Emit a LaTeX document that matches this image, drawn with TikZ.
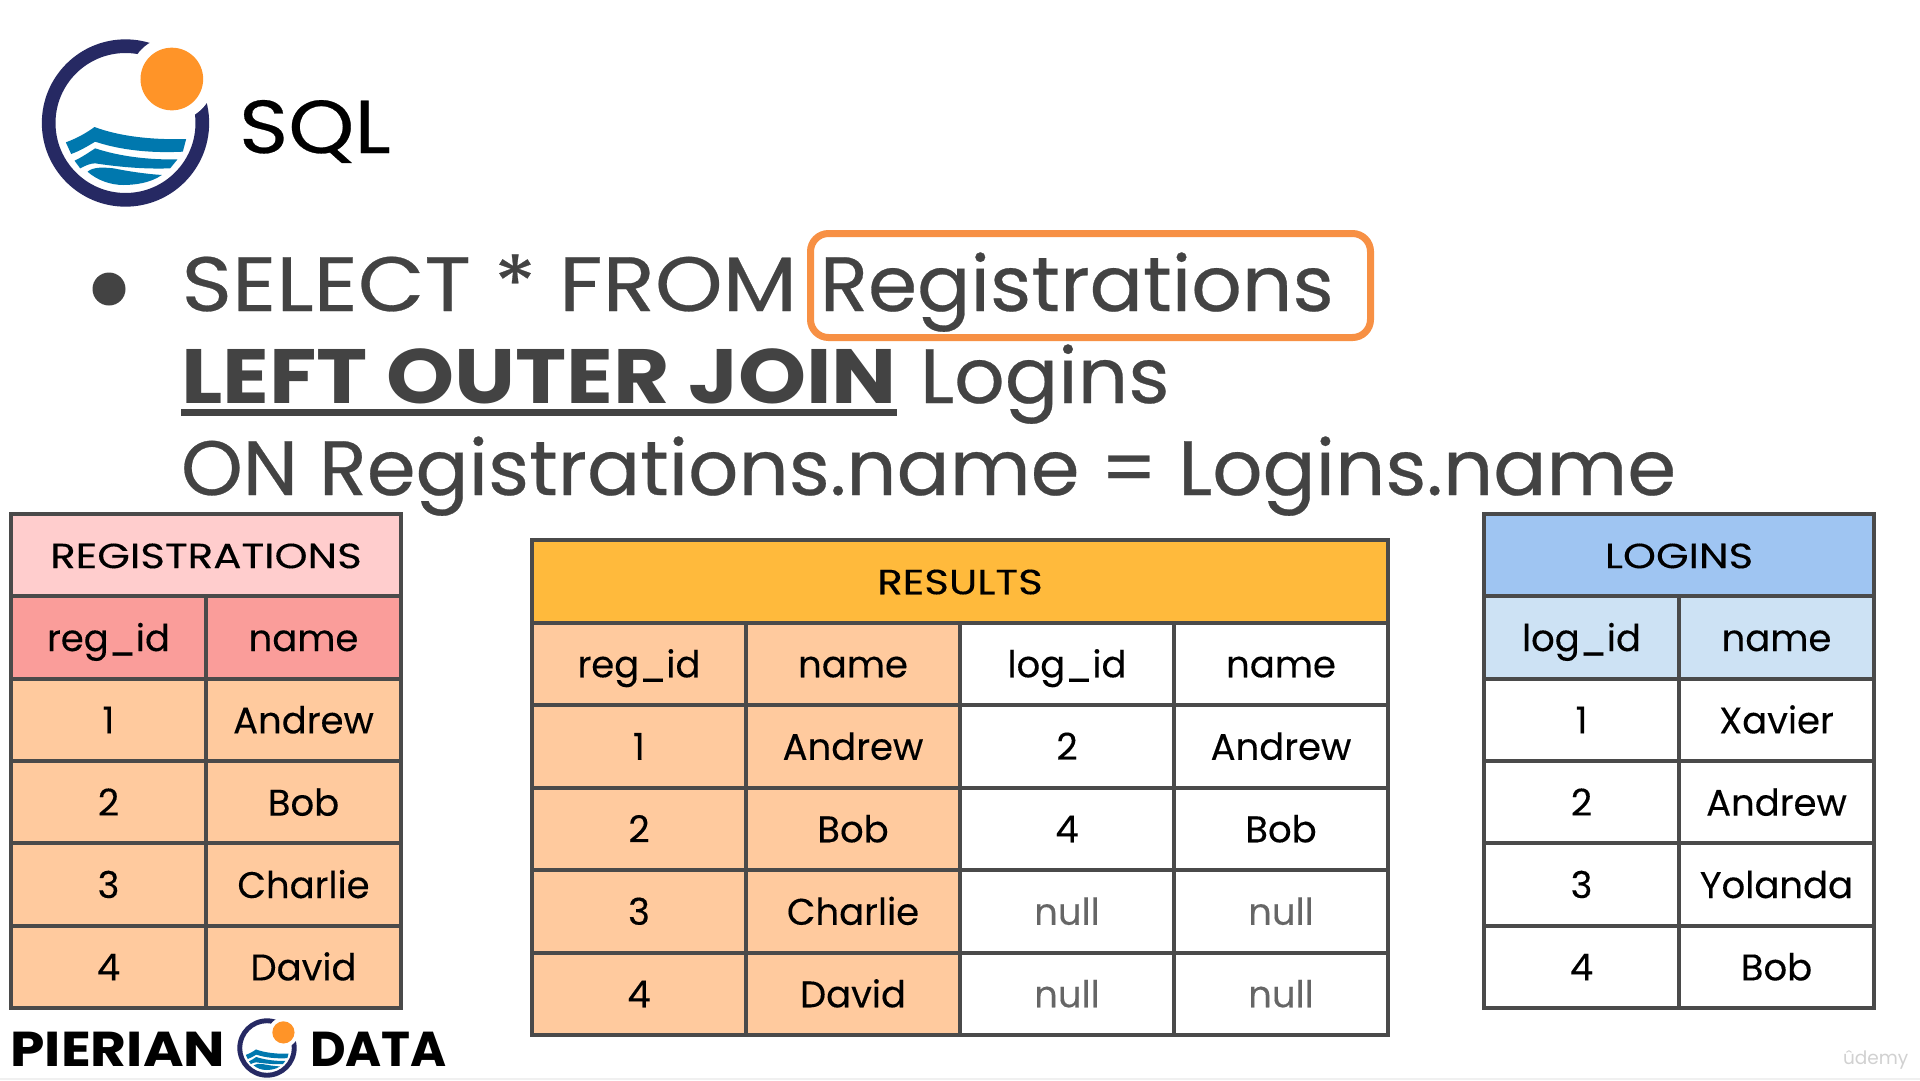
\documentclass[tikz,border=0pt]{standalone}
\usepackage{fontspec}
\usetikzlibrary{positioning}
\setmainfont{Poppins}[FakeBold=.25]
\newfontfamily\titlefont[FakeStretch=1.2, FakeBold=.25]{Poppins}
\newfontfamily\capsfont[FakeStretch=1.12, FakeBold=.35]{Poppins}
\newfontfamily\wordfont[FakeStretch=1.027, FakeBold=.35]{Poppins}
\newfontfamily\clausefont[FakeStretch=1.021, FakeBold=.35]{Poppins}
\newfontfamily\heavyfont[FakeStretch=1.125]{Poppins}
\newfontfamily\plainfont{Poppins}

\definecolor{gridgray}{HTML}{4A4A4A}
\definecolor{textgray}{HTML}{434343}
\definecolor{nullgray}{HTML}{666666}
\definecolor{regtitle}{HTML}{FFCDCD}
\definecolor{reghead}{HTML}{FA9D9A}
\definecolor{rowpeach}{HTML}{FFCA9E}
\definecolor{restitle}{HTML}{FFBA3C}
\definecolor{logtitle}{HTML}{9FC5F2}
\definecolor{loghead}{HTML}{CDE2F4}
\definecolor{ringblue}{HTML}{262963}
\definecolor{sunorange}{HTML}{FF9428}
\definecolor{seablue}{HTML}{0078AE}
\definecolor{boxorange}{HTML}{F79044}

\tikzset{
	cell/.style={draw=gridgray, line width=4pt, outer sep=0pt, inner sep=0pt, align=center,
		font=\fontsize{37}{40}\selectfont, text height=29pt, text depth=2pt},
	smallcell/.style={cell, minimum width=195pt, minimum height=82.33pt},
	smalltitle/.style={smallcell, minimum width=390pt, font=\titlefont\fontsize{35}{38}\selectfont, text height=28pt},
	bigcell/.style={cell, minimum width=214pt, minimum height=82.5pt},
	bigtitle/.style={bigcell, minimum width=856pt, font=\titlefont\fontsize{35}{38}\selectfont, text height=28pt},
	slide/.style={anchor=base west, inner sep=0pt, outer sep=0pt, text=textgray, font=\wordfont\fontsize{77}{80}\selectfont},
	logo/.pic={
		\begin{scope}[shift={(-376,-369)}]
			\fill[ringblue, even odd rule] (376,369) circle (251) (376,369) circle (210);
			\fill[white] (515,237) circle (127);
			\fill[sunorange] (515,237) circle (94);
			\fill[seablue] (197,427) .. controls (230,415) and (260,398) .. (283,381) .. controls (360,410) and (460,420) .. (558,417) -- (548,455) .. controls (450,460) and (360,450) .. (285,425) .. controls (260,440) and (240,452) .. (213,462) -- cycle;
			\fill[seablue] (223,482) .. controls (245,472) and (265,458) .. (285,445) .. controls (360,470) and (450,480) .. (532,478) -- (510,505) .. controls (430,508) and (350,500) .. (285,490) .. controls (270,490) and (255,497) .. (240,505) -- cycle;
			\fill[seablue] (262,515) .. controls (280,500) and (310,502) .. (340,505) .. controls (390,515) and (440,522) .. (485,525) .. controls (450,550) and (400,555) .. (370,555) .. controls (330,555) and (290,540) .. (262,515) -- cycle;
		\end{scope}
	},
}

\begin{document}
\begin{tikzpicture}[x=1pt, y=-1pt]
	\useasboundingbox (0,0) rectangle (1920,1080);
	\fill[white] (0,0) rectangle (1920,1080);
	\fill[black!6] (0,1078) rectangle (1920,1080);

	% Logos and heading
	\pic (logobig) [scale=.3333] at (125.5,123) {logo};
	\pic (logosmall) [scale=.1182] at (267,1048) {logo};
	\node[slide, text=black, font=\capsfont\fontsize{75}{78}\selectfont] (sql) at (239,153) {SQL};
	\node[slide, text=black, font=\heavyfont\fontsize{49}{52}\selectfont\bfseries] (pierian) at (10.5,1066) {PIERIAN};
	\node[slide, text=black, font=\plainfont\fontsize{49}{52}\selectfont\bfseries] (data) at (310,1066) {DATA};
	\node[slide, text=black!18, font=\plainfont\fontsize{18.5}{22}\selectfont] (udemy) at (1843,1064) {ûdemy};

	% Query text
	\fill[textgray] (109,289) circle (16.5);
	\node[slide, font=\capsfont\fontsize{77}{80}\selectfont] (select) at (181.5,311) {SELECT * FROM};
	\node[slide] (regword) at (820,311) {Registrations};
	\node[draw=boxorange, line width=7pt, rounded corners=18pt, minimum width=560pt, minimum height=104pt, outer sep=0pt] (regbox) at (1090.5,285.5) {};
	\node[slide, font=\heavyfont\fontsize{77}{80}\selectfont\bfseries] (outer) at (181,403) {LEFT OUTER JOIN};
	\node[slide] (logword) at (920,403) {Logins};
	\node[slide, font=\clausefont\fontsize{77}{80}\selectfont] (onclause) at (181,495) {ON Registrations.name = Logins.name};
	\fill[textgray] (181,409) rectangle (897,415.5);

	% Registrations table
	\node[smalltitle, fill=regtitle, anchor=north west] (regt) at (11,514) {REGISTRATIONS};
	\node[smallcell, fill=reghead, below=0pt of regt.south west, anchor=north west] (rega0) {reg\_id};
	\node[smallcell, fill=reghead, right=0pt of rega0] (regb0) {name};
	\foreach \i/\id/\who [remember=\i as \prev (initially 0)] in {1/1/Andrew, 2/2/Bob, 3/3/Charlie, 4/4/David} {
		\node[smallcell, fill=rowpeach, below=0pt of rega\prev] (rega\i) {\id};
		\node[smallcell, fill=rowpeach, right=0pt of rega\i] (regb\i) {\who};
	}

	% Results table
	\node[bigtitle, fill=restitle, anchor=north west] (rest) at (532,540) {RESULTS};
	\node[bigcell, fill=rowpeach, below=0pt of rest.south west, anchor=north west] (resa0) {reg\_id};
	\node[bigcell, fill=rowpeach, right=0pt of resa0] (resb0) {name};
	\node[bigcell, right=0pt of resb0] (resc0) {log\_id};
	\node[bigcell, right=0pt of resc0] (resd0) {name};
	\foreach \i/\id/\who/\lid/\lwho/\tone [remember=\i as \prev (initially 0)] in {1/1/Andrew/2/Andrew/black, 2/2/Bob/4/Bob/black, 3/3/Charlie/null/null/nullgray, 4/4/David/null/null/nullgray} {
		\node[bigcell, fill=rowpeach, below=0pt of resa\prev] (resa\i) {\id};
		\node[bigcell, fill=rowpeach, right=0pt of resa\i] (resb\i) {\who};
		\node[bigcell, text=\tone, right=0pt of resb\i] (resc\i) {\lid};
		\node[bigcell, text=\tone, right=0pt of resc\i] (resd\i) {\lwho};
	}

	% Logins table
	\node[smalltitle, fill=logtitle, anchor=north west] (logt) at (1484,514) {LOGINS};
	\node[smallcell, fill=loghead, below=0pt of logt.south west, anchor=north west] (loga0) {log\_id};
	\node[smallcell, fill=loghead, right=0pt of loga0] (logb0) {name};
	\foreach \i/\id/\who [remember=\i as \prev (initially 0)] in {1/1/Xavier, 2/2/Andrew, 3/3/Yolanda, 4/4/Bob} {
		\node[smallcell, below=0pt of loga\prev] (loga\i) {\id};
		\node[smallcell, right=0pt of loga\i] (logb\i) {\who};
	}
\end{tikzpicture}
\end{document}
